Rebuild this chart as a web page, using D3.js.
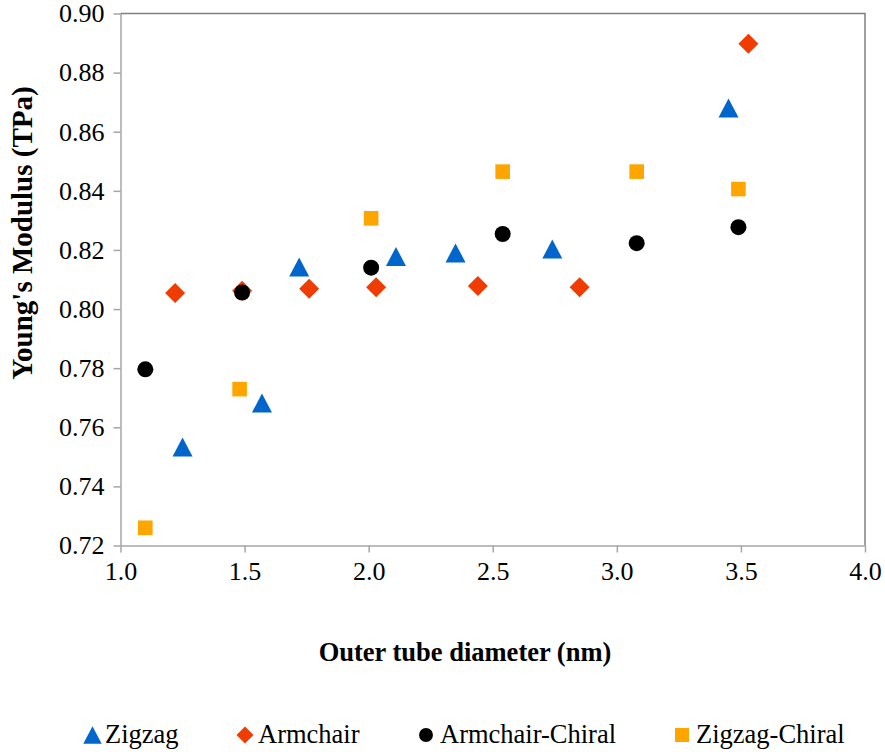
<!DOCTYPE html>
<html>
<head>
<meta charset="utf-8">
<script src="https://cdn.jsdelivr.net/npm/d3@7"></script>
</head>
<body style="margin:0;background:#fff">
<div id="chart"></div>
<script>
// data
var zigzagX = [1.25, 1.57, 1.72, 2.11, 2.35, 2.74, 3.45];
var zigzagY = [0.7533, 0.7682, 0.8142, 0.8178, 0.8190, 0.8203, 0.8680];
var armchairX = [1.22, 1.49, 1.76, 2.03, 2.44, 2.85, 3.53];
var armchairY = [0.8054, 0.8062, 0.8069, 0.8074, 0.8078, 0.8074, 0.8898];
var armChiralX = [1.10, 1.49, 2.01, 2.54, 3.08, 3.49];
var armChiralY = [0.7796, 0.8056, 0.8140, 0.8254, 0.8223, 0.8277];
var zigChiralX = [1.10, 1.48, 2.01, 2.54, 3.08, 3.49];
var zigChiralY = [0.7260, 0.7729, 0.8307, 0.8465, 0.8465, 0.8406];
var xTicks = [1.0, 1.5, 2.0, 2.5, 3.0, 3.5, 4.0];
var yTicks = [0.72, 0.74, 0.76, 0.78, 0.80, 0.82, 0.84, 0.86, 0.88, 0.90];
var seriesNames = ["Zigzag", "Armchair", "Armchair-Chiral", "Zigzag-Chiral"];

var series = [
  {name: seriesNames[0], xs: zigzagX, ys: zigzagY, shape: "triangle", color: "#0066cc"},
  {name: seriesNames[1], xs: armchairX, ys: armchairY, shape: "diamond", color: "#f03c00"},
  {name: seriesNames[2], xs: armChiralX, ys: armChiralY, shape: "circle", color: "#000000"},
  {name: seriesNames[3], xs: zigChiralX, ys: zigChiralY, shape: "square", color: "#ffa500"}
];

var FONT = "Liberation Serif";
var W = 885, H = 752;
var margin = {top: 13.5, right: 20, bottom: 206.5, left: 120.5};
var width = W - margin.left - margin.right,
    height = H - margin.top - margin.bottom;

var svg = d3.select("#chart").append("svg")
    .attr("width", W).attr("height", H);
var g = svg.append("g")
    .attr("transform", `translate(${margin.left},${margin.top})`);

var x = d3.scaleLinear().domain([1, 4]).range([0, width]);
var y = d3.scaleLinear().domain([0.72, 0.90]).range([height, 0]);

// frame: top and right
g.append("path")
  .attr("d", `M0,0H${width}V${height}`)
  .attr("fill", "none").attr("stroke", "#808080").attr("stroke-width", 1.5);

// x axis
var xAxis = g.append("g")
  .attr("transform", `translate(0,${height})`)
  .call(d3.axisBottom(x).tickValues(xTicks).tickFormat(d3.format(".1f")).tickSizeInner(7).tickSizeOuter(0).tickPadding(9))
  .attr("font-family", FONT).attr("font-size", 26);
xAxis.select(".domain").attr("stroke", "#a6a6a6").attr("stroke-width", 1.5);
xAxis.selectAll(".tick line").attr("stroke", "#a6a6a6").attr("stroke-width", 1.5);
xAxis.selectAll("text").attr("fill", "#000");

// y axis
var yAxis = g.append("g")
  .call(d3.axisLeft(y).tickValues(yTicks).tickFormat(d3.format(".2f")).tickSizeInner(7).tickSizeOuter(0).tickPadding(9))
  .attr("font-family", FONT).attr("font-size", 26);
yAxis.select(".domain").attr("stroke", "#a6a6a6").attr("stroke-width", 1.5);
yAxis.selectAll(".tick line").attr("stroke", "#a6a6a6").attr("stroke-width", 1.5);
yAxis.selectAll("text").attr("fill", "#000");

// marker shapes
function symbolFor(shape) {
  if (shape === "triangle") return "M0,-9.5L10,9.5L-10,9.5Z";
  if (shape === "diamond") return "M0,-10L10,0L0,10L-10,0Z";
  if (shape === "circle") return d3.symbol().type(d3.symbolCircle).size(Math.PI * 64)();
  return "M-7.3,-7.3H7.3V7.3H-7.3Z";
}

series.forEach(function(s) {
  var pts = s.xs.map(function(v, i) { return {x: v, y: s.ys[i]}; });
  g.append("g")
    .selectAll("path")
    .data(pts)
    .join("path")
      .attr("d", symbolFor(s.shape))
      .attr("transform", d => `translate(${x(d.x)},${y(d.y)})`)
      .attr("fill", s.color);
});

// axis titles
svg.append("text")
  .attr("x", 465).attr("y", 661)
  .attr("text-anchor", "middle")
  .attr("font-family", FONT).attr("font-size", 26.5).attr("font-weight", "bold")
  .text("Outer tube diameter (nm)");

svg.append("text")
  .attr("transform", "translate(32,233) rotate(-90)")
  .attr("text-anchor", "middle")
  .attr("font-family", FONT).attr("font-size", 29).attr("font-weight", "bold")
  .text("Young's Modulus (TPa)");

// legend
var legendPos = [92.5, 245, 426, 682];
var legendText = [105, 258, 440, 696];
series.forEach(function(s, i) {
  var item = svg.append("g");
  item.append("path")
    .attr("d", symbolFor(s.shape))
    .attr("transform", `translate(${legendPos[i]},735) scale(${s.shape === "circle" ? 0.87 : s.shape === "square" ? 0.96 : s.shape === "diamond" ? 0.85 : 0.92})`)
    .attr("fill", s.color);
  item.append("text")
    .attr("x", legendText[i]).attr("y", 743)
    .attr("font-family", FONT).attr("font-size", 26.5)
    .text(s.name);
});
</script>
</body>
</html>
